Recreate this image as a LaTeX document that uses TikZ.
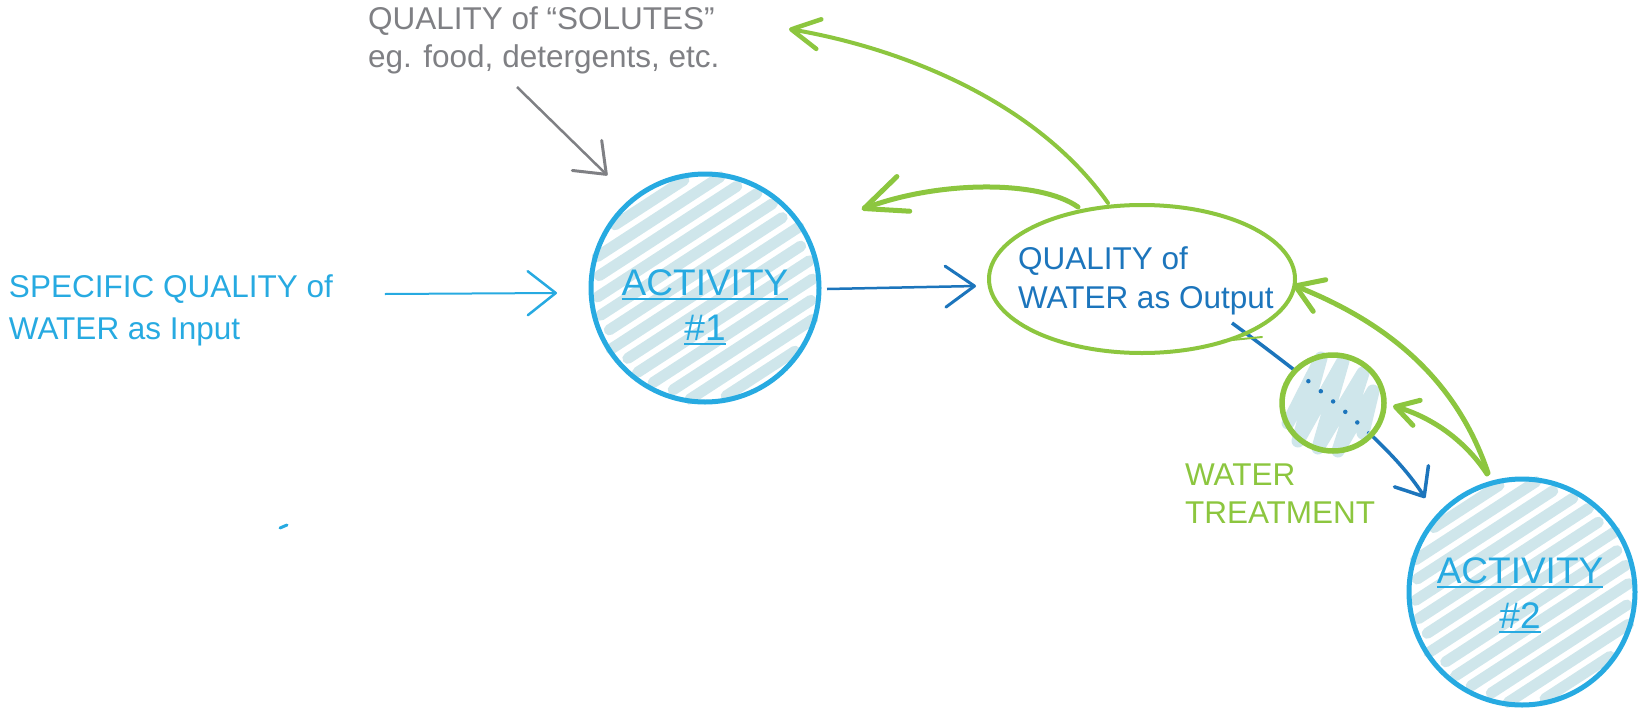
\documentclass[tikz,border=0pt]{standalone}
\usepackage{fontspec}
\setmainfont{Liberation Sans}
\usetikzlibrary{arrows.meta,shapes.geometric,calc}
\pgfdeclarelayer{bottom}
\pgfdeclarelayer{hatch}
\pgfsetlayers{bottom,hatch,main}

\definecolor{actblue}{HTML}{27AAE1}
\definecolor{outblue}{HTML}{1C75BC}
\definecolor{wgreen}{HTML}{8CC63F}
\definecolor{sgray}{HTML}{7F8084}
\definecolor{hatchc}{HTML}{CFE6EB}

\newcommand\ulx[1]{\setbox0\hbox{#1}\rlap{\vrule width\wd0 height -3pt depth 5pt}\box0}

\newcommand\hatchdisk[5]{%
  \foreach \i in {-6,...,6}{%
    \pgfmathsetmacro\dd{\i*#5}%
    \pgfmathsetmacro\hh{sqrt(max(#3*#3-\dd*\dd,1))-2-8*abs(sin(\i*73))}%
    \draw[hatchline] ($(#1)+(#4+90:\dd)+(#4:\hh)$) -- ($(#1)+(#4+90:\dd)+(#4+180:\hh)$);
  }%
}

\tikzset{
  lbl/.style={anchor=base west, inner sep=0pt, outer sep=0pt, font=\fontsize{31.5}{38}\selectfont},
  acttext/.style={anchor=base, inner sep=0pt, outer sep=0pt, text=actblue, font=\fontsize{37}{45}\selectfont},
  actcircle/.style={circle, draw=actblue, line width=5pt, inner sep=0pt, outer sep=0pt},
  hatchline/.style={hatchc, line width=11pt, line cap=round, line join=round},
  inarrow/.style={actblue, line width=2pt, -{Straight Barb[length=28pt,width=44pt,line width=2.5pt,round]}},
  outarrow/.style={outblue, line width=2.5pt, -{Straight Barb[length=29pt,width=41pt,line width=3pt,round]}},
  grayarrow/.style={sgray, line width=2.5pt, -{Straight Barb[length=27pt,width=42pt,line width=3pt,round]}},
  greenarrow/.style={wgreen, line width=4.5pt, line cap=round},
}

\begin{document}
\begin{tikzpicture}[x=1pt,y=-1pt]
\useasboundingbox (0,0) rectangle (1640,715);

% circles and ellipse
\node[actcircle, minimum size=228pt] (act1) at (705,288) {};
\node[actcircle, minimum size=226pt] (act2) at (1522,592) {};
\node[ellipse, draw=wgreen, line width=4pt, minimum width=306pt, minimum height=148pt, inner sep=0pt, outer sep=0pt] (out) at (1142,279) {};
\node[ellipse, draw=wgreen, line width=5.5pt, minimum width=102pt, minimum height=96pt, inner sep=0pt, outer sep=0pt] (treat) at (1333,403) {};
\draw[wgreen, line width=2pt, line cap=round] ([shift={(80,62)}]out.center) -- ([shift={(120,58)}]out.center);

% hatching
\begin{pgfonlayer}{hatch}
  \hatchdisk{act1.center}{}{114}{-33}{17}
  \hatchdisk{act2.center}{}{113}{-33}{17}
  \fill[white] (treat.center) ellipse [x radius=49, y radius=46];
  \begin{scope}[shift={(treat.center)}]
    \draw[hatchline, line width=13pt] (-45,20) -- (-12,-45) -- (-35,38) -- (10,-42) -- (-15,45) -- (30,-30) -- (5,48) -- (40,-12) -- (30,30);
  \end{scope}
\end{pgfonlayer}

% texts
\node[lbl, text=sgray] (sol1) at (368,29) {QUALITY of “SOLUTES”};
\node[lbl, text=sgray] (sol2) at (368,67) {eg. food, detergents, etc.};
\node[lbl, text=actblue] (inp1) at (9,297) {SPECIFIC QUALITY of};
\node[lbl, text=actblue] (inp2) at (9,339) {WATER as Input};
\node[lbl, text=outblue] (out1) at (1018,269) {QUALITY of};
\node[lbl, text=outblue] (out2) at (1018,308) {WATER as Output};
\node[lbl, text=wgreen] (wt1) at (1185,485) {WATER};
\node[lbl, text=wgreen] (wt2) at (1185,523) {TREATMENT};
\node[acttext] (act1a) at (705,295) {\ulx{ACTIVITY}};
\node[acttext] (act1b) at (705,340) {\ulx{\#1}};
\node[acttext] (act2a) at (1520,583) {\ulx{ACTIVITY}};
\node[acttext] (act2b) at (1520,628) {\ulx{\#2}};

\coordinate (topend) at (789,29);

% connectors
\draw[inarrow] ([shift={(52,-3)}]inp1.base east) -- ([shift={(-34,5)}]act1.west);
\draw[outarrow] ([shift={(8,1)}]act1.east) -- ([shift={(-13,7)}]out.west);
\draw[grayarrow] ([shift={(149,20)}]sol2.base west) -- ([shift={(-17,-32)}]act1.north west);

\draw[greenarrow, line width=4pt, -{Straight Barb[length=28pt,width=30pt,line width=4.5pt,round]}]
  ([shift={(-34,-2)}]out.north) .. controls +(-73,-103) and +(111,19) .. (topend);
\draw[greenarrow, line width=5pt, -{Straight Barb[length=42pt,width=37pt,line width=5pt,round]}]
  ([shift={(-64,2)}]out.north) .. controls +(-38,-27) and +(78,-29) .. ([shift={(76,2)}]act1.north east);
\draw[greenarrow, line width=5pt, -{Straight Barb[length=26pt,width=34pt,line width=5pt,round]}]
  ([shift={(-34,-6)}]act2.north) .. controls +(-32,-95) and +(93,37) .. ([shift={(-2,6)}]out.east);
\draw[greenarrow, line width=5pt, -{Straight Barb[length=22pt,width=26pt,line width=5pt,round]}]
  ([shift={(-35,-5)}]act2.north) .. controls +(-22,-34) and +(38,11) .. ([shift={(9,3)}]treat.east);

\begin{pgfonlayer}{bottom}
\draw[outblue, line width=3.5pt, -{Straight Barb[length=24pt,width=40pt,line width=3.5pt,round]}]
  ([shift={(90,44)}]out.center) .. controls +(98,72) and +(-30,-48) .. ([shift={(-17,-14)}]act2.north west);
\end{pgfonlayer}
\begin{scope}
  \clip (treat.center) circle (46);
  \draw[outblue, line width=4.5pt, line cap=round, dash pattern=on 0pt off 16pt]
    ([shift={(90,44)}]out.center) .. controls +(98,72) and +(-30,-48) .. ([shift={(-17,-14)}]act2.north west);
\end{scope}

\draw[actblue, line width=3pt, line cap=round] (280,528) -- (287,525);
\end{tikzpicture}
\end{document}
